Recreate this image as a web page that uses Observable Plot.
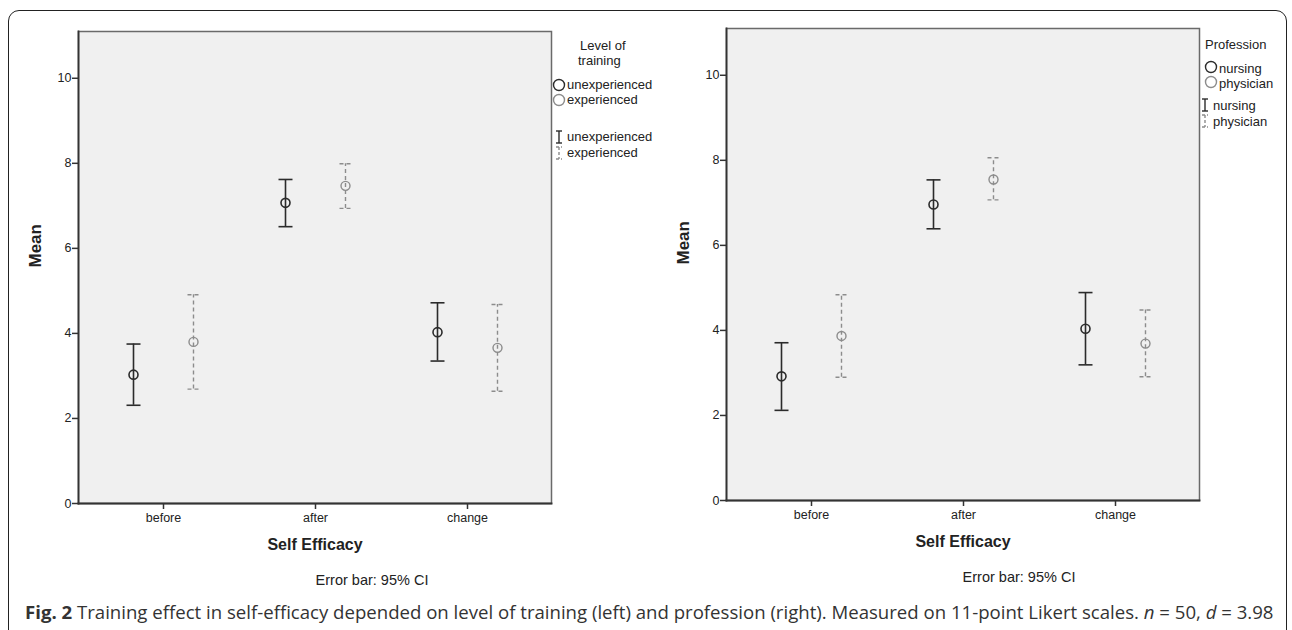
<!DOCTYPE html>
<html>
<head>
<meta charset="utf-8">
<script src="https://cdn.jsdelivr.net/npm/d3@7"></script>
<script src="https://cdn.jsdelivr.net/npm/@observablehq/plot@0.6"></script>
<style>
  body { margin: 0; background: #fff; }
  #page { position: relative; width: 1292px; height: 630px; overflow: hidden; background: #fff;
          font-family: "Liberation Sans", Arial, sans-serif; color: #222; }
  #border { position: absolute; left: 8px; top: 10px; width: 1279px; height: 660px;
            border: 1.5px solid #222; border-radius: 11px; box-sizing: border-box; }
  .panel { position: absolute; }
  .leg { position: absolute; font-size: 13px; white-space: nowrap; line-height: 15px; }
  .legicon { position: absolute; }
  #caption { position: absolute; left: 25px; top: 599px; font-family: "Open Sans", "Noto Sans", sans-serif;
             font-size: 18.6px; color: #333; white-space: nowrap; line-height: 26px; }
</style>
</head>
<body>
<div id="page">
  <div id="border"></div>
  <div id="left" class="panel" style="left:0px;top:0px"></div>
  <div id="right" class="panel" style="left:648px;top:-3px"></div>
  <div id="caption"><b>Fig. 2</b> Training effect in self-efficacy depended on level of training (left) and profession (right). Measured on 11-point Likert scales. <i>n</i> = 50, <i>d</i> = 3.98</div>
</div>
<script>
// ---- Data ----
const categories = ["before", "after", "change"];
const yTicks = [0, 2, 4, 6, 8, 10];

// Left panel: Level of training
const trainingTitle = ["Level of", "training"];
const trainingGroups = ["unexperienced", "experienced"];
const unexpMean = [3.03, 7.07, 4.03];
const unexpLo   = [2.31, 6.51, 3.35];
const unexpHi   = [3.75, 7.62, 4.72];
const expMean   = [3.80, 7.47, 3.66];
const expLo     = [2.69, 6.94, 2.64];
const expHi     = [4.91, 7.99, 4.68];

// Right panel: Profession
const professionTitle = ["Profession"];
const professionGroups = ["nursing", "physician"];
const nursMean = [2.92, 6.96, 4.04];
const nursLo   = [2.12, 6.39, 3.19];
const nursHi   = [3.71, 7.54, 4.89];
const physMean = [3.87, 7.55, 3.69];
const physLo   = [2.90, 7.07, 2.91];
const physHi   = [4.84, 8.06, 4.48];

const xLabel = "Self Efficacy";
const yLabel = "Mean";
const noteText = "Error bar: 95% CI";

// ---- Helpers ----
function rows(mean, lo, hi, group) {
  return categories.map((c, i) => ({cat: c, mean: mean[i], lo: lo[i], hi: hi[i], group}));
}
const capSymbol = {
  draw(context, size) {
    const w = Math.sqrt(size / Math.PI);
    context.moveTo(-w, 0);
    context.lineTo(w, 0);
  }
};
const FONT = '"Liberation Sans", Arial, sans-serif';
const DARK = "#2b2b2b", GRAY = "#8c8c8c";

function seriesMarks(data, o) {
  const common = {x: "cat", dx: o.dx, stroke: o.stroke, strokeWidth: o.sw, strokeDasharray: o.dash};
  return [
    Plot.ruleX(data, {...common, y1: "lo", y2: "hi"}),
    Plot.dot(data, {...common, y: "hi", symbol: capSymbol, r: o.cap}),
    Plot.dot(data, {...common, y: "lo", symbol: capSymbol, r: o.cap}),
    Plot.dot(data, {x: "cat", y: "mean", dx: o.dx, r: 4.5, stroke: o.stroke, strokeWidth: o.sw, fill: "none"})
  ];
}

function panel(dataA, dataB, noteDx) {
  return Plot.plot({
    width: 640, height: 600,
    marginLeft: 78, marginRight: 89, marginTop: 31, marginBottom: 97,
    style: {fontFamily: FONT, fontSize: "12.5px", color: "#222", background: "transparent", overflow: "visible"},
    x: {type: "point", domain: categories, padding: 0.55},
    y: {domain: [0, 11.1]},
    marks: [
      Plot.frame({fill: "#f0f0f0", stroke: "#6a6a6a", strokeWidth: 1.5}),
      Plot.frame({anchor: "left", stroke: "#333", strokeWidth: 1.8}),
      Plot.frame({anchor: "bottom", stroke: "#333", strokeWidth: 1.8}),
      Plot.axisY({ticks: yTicks, tickSize: 6, tickPadding: 1, label: null, stroke: "#333", strokeWidth: 1.5, fontSize: 12.5}),
      Plot.axisX({tickSize: 6, tickPadding: 4, label: null, stroke: "#333", strokeWidth: 1.5, fontSize: 12.5}),
      Plot.text([yLabel], {frameAnchor: "left", dx: -43, rotate: -90, fontWeight: "bold", fontSize: 17}),
      Plot.text([xLabel], {frameAnchor: "bottom", dy: 46, fontWeight: "bold", fontSize: 16}),
      Plot.text([noteText], {frameAnchor: "bottom", dx: noteDx, dy: 81, fontSize: 14.5}),
      ...seriesMarks(dataA, {dx: -30, stroke: DARK, sw: 1.6, cap: 7, dash: null}),
      ...seriesMarks(dataB, {dx: 30, stroke: GRAY, sw: 1.4, cap: 6, dash: "4,3"})
    ]
  });
}

document.getElementById("left").append(
  panel(rows(unexpMean, unexpLo, unexpHi, trainingGroups[0]), rows(expMean, expLo, expHi, trainingGroups[1]), 57)
);
document.getElementById("right").append(
  panel(rows(nursMean, nursLo, nursHi, professionGroups[0]), rows(physMean, physLo, physHi, professionGroups[1]), 56)
);

// ---- Legends ----
const page = document.getElementById("page");
function addText(txt, left, top, extra) {
  const d = document.createElement("div");
  d.className = "leg";
  d.textContent = txt;
  d.style.left = left + "px";
  d.style.top = top + "px";
  if (extra) Object.assign(d.style, extra);
  page.append(d);
}
function addIcon(svg, left, top) {
  const d = document.createElement("div");
  d.className = "legicon";
  d.style.left = left + "px";
  d.style.top = top + "px";
  d.innerHTML = svg;
  page.append(d);
}
const circleIcon = c => `<svg width="14" height="14"><circle cx="7" cy="7" r="5.5" fill="none" stroke="${c}" stroke-width="1.4"/></svg>`;
const barIcon = (c, dash) => `<svg width="10" height="16"><g stroke="${c}" stroke-width="1.4" ${dash ? 'stroke-dasharray="3,2"' : ''}><line x1="5" y1="2" x2="5" y2="14"/><line x1="2" y1="2" x2="8" y2="2"/><line x1="2" y1="14" x2="8" y2="14"/></g></svg>`;

// left legend
addText(trainingTitle[0], 580, 38);
addText(trainingTitle[1], 578, 53);
addIcon(circleIcon(DARK), 552, 78);
addText(trainingGroups[0], 567, 77);
addIcon(circleIcon(GRAY), 552, 93);
addText(trainingGroups[1], 567, 92);
addIcon(barIcon(DARK, false), 554, 129);
addText(trainingGroups[0], 567, 129);
addIcon(barIcon(GRAY, true), 554, 145);
addText(trainingGroups[1], 567, 145);

// right legend
addText(professionTitle[0], 1205, 37);
addIcon(circleIcon(DARK), 1204, 60);
addText(professionGroups[0], 1219, 61);
addIcon(circleIcon(GRAY), 1204, 75);
addText(professionGroups[1], 1219, 76);
addIcon(barIcon(DARK, false), 1200, 97);
addText(professionGroups[0], 1213, 98);
addIcon(barIcon(GRAY, true), 1200, 113);
addText(professionGroups[1], 1213, 114);
</script>
</body>
</html>
